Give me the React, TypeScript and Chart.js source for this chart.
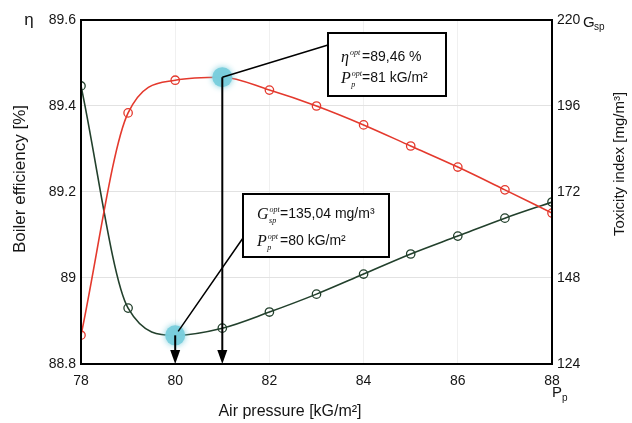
import React, { useEffect, useRef } from 'react';
import { Chart, registerables } from 'chart.js';
Chart.register(...registerables);

const pressure = [78, 79, 80, 81, 82, 83, 84, 85, 86, 87, 88];
const efficiency = [88.867, 89.384, 89.46, 89.467, 89.437, 89.4, 89.356, 89.307, 89.258, 89.205, 89.151];
const toxicity = [201.6, 139.6, 132.0, 134.0, 138.5, 143.5, 149.1, 154.7, 159.7, 164.7, 169.2];

const pressureTicks = [78, 80, 82, 84, 86, 88];
const pressureTickLabels = ['78', '80', '82', '84', '86', '88'];
const etaTicks = [88.8, 89, 89.2, 89.4, 89.6];
const etaTickLabels = ['88.8', '89', '89.2', '89.4', '89.6'];
const toxTicks = [124, 148, 172, 196, 220];
const toxTickLabels = ['124', '148', '172', '196', '220'];

const optEtaPressure = 81;
const optToxPressure = 80;
const optEtaText = ['=89,46 %', '=81 kG/m²'];
const optToxText = ['=135,04 mg/m³', '=80 kG/m²'];

const RED = '#e4392d';
const GREEN = '#22402c';
const CYAN = 'rgba(120,205,220,0.95)';
const TEXT = '#151515';
const SANS = '"Liberation Sans", Arial, sans-serif';
const SERIF = '"Liberation Serif", "Times New Roman", serif';

function symbol(ctx: CanvasRenderingContext2D, x: number, y: number, main: string, sup: string, sub: string) {
  ctx.font = `italic 16px ${SERIF}`;
  ctx.textAlign = 'left';
  ctx.textBaseline = 'alphabetic';
  ctx.fillText(main, x, y);
  const w = ctx.measureText(main).width;
  ctx.font = `italic 8px ${SERIF}`;
  ctx.fillText(sup, x + w + 1, y - 7);
  if (sub) ctx.fillText(sub, x + w + 0.5, y + 4);
}

const overlay = {
  id: 'overlay',
  beforeDraw(chart: any) {
    const { ctx, width, height } = chart;
    ctx.save();
    ctx.fillStyle = '#fff';
    ctx.fillRect(0, 0, width, height);
    ctx.restore();
  },
  beforeDatasetDraw(chart: any, args: any) {
    const ds = chart.data.datasets[args.index];
    if (ds.isOpt) {
      chart.ctx.save();
      chart.ctx.shadowColor = 'rgba(120,205,220,1)';
      chart.ctx.shadowBlur = 6;
    }
  },
  afterDatasetDraw(chart: any, args: any) {
    const ds = chart.data.datasets[args.index];
    if (ds.isOpt) chart.ctx.restore();
  },
  afterDatasetsDraw(chart: any) {
    const { ctx, chartArea: ca, scales } = chart;
    const xs = scales.x, ys = scales.y, y2 = scales.y2;
    ctx.save();
    ctx.strokeStyle = '#000';
    ctx.lineWidth = 2;
    ctx.strokeRect(ca.left, ca.top, ca.right - ca.left, ca.bottom - ca.top);

    const p1x = xs.getPixelForValue(optEtaPressure);
    const p1y = ys.getPixelForValue(efficiency[pressure.indexOf(optEtaPressure)]);
    const p2x = xs.getPixelForValue(optToxPressure);
    const p2y = y2.getPixelForValue(toxicity[pressure.indexOf(optToxPressure)]);

    const arrow = (x: number, yTop: number) => {
      ctx.strokeStyle = '#000';
      ctx.fillStyle = '#000';
      ctx.lineWidth = 2;
      ctx.beginPath();
      ctx.moveTo(x, yTop);
      ctx.lineTo(x, ca.bottom - 12);
      ctx.stroke();
      ctx.beginPath();
      ctx.moveTo(x - 5, ca.bottom - 14);
      ctx.lineTo(x + 5, ca.bottom - 14);
      ctx.lineTo(x, ca.bottom);
      ctx.closePath();
      ctx.fill();
    };
    arrow(p1x, p1y);
    arrow(p2x, p2y);

    const b1 = { x: 328, y: 33, w: 118, h: 63 };
    const b2 = { x: 243, y: 194, w: 146, h: 63 };
    ctx.lineWidth = 1.5;
    ctx.beginPath();
    ctx.moveTo(p1x, p1y);
    ctx.lineTo(b1.x, b1.y + 12);
    ctx.moveTo(p2x + 3, p2y - 4);
    ctx.lineTo(b2.x, b2.y + 44);
    ctx.stroke();

    ctx.lineWidth = 2;
    for (const b of [b1, b2]) {
      ctx.fillStyle = '#fff';
      ctx.fillRect(b.x, b.y, b.w, b.h);
      ctx.strokeRect(b.x, b.y, b.w, b.h);
    }
    ctx.fillStyle = '#111';
    symbol(ctx, b1.x + 13, b1.y + 29, 'η', 'opt', '');
    symbol(ctx, b1.x + 13, b1.y + 50, 'P', 'opt', 'p');
    ctx.font = `14px ${SANS}`;
    ctx.fillText(optEtaText[0], b1.x + 34, b1.y + 28);
    ctx.fillText(optEtaText[1], b1.x + 34, b1.y + 49);

    symbol(ctx, b2.x + 14, b2.y + 25, 'G', 'opt', 'sp');
    symbol(ctx, b2.x + 14, b2.y + 52, 'P', 'opt', 'p');
    ctx.font = `14px ${SANS}`;
    ctx.fillText(optToxText[0], b2.x + 37, b2.y + 24);
    ctx.fillText(optToxText[1], b2.x + 37, b2.y + 51);

    ctx.fillStyle = TEXT;
    ctx.font = `17px ${SANS}`;
    ctx.textBaseline = 'middle';
    ctx.textAlign = 'center';
    ctx.fillText('η', 29, ca.top);
    ctx.textAlign = 'left';
    ctx.font = `15px ${SANS}`;
    ctx.fillText('G', 583, ca.top + 3);
    ctx.font = `10px ${SANS}`;
    ctx.fillText('sp', 594, ca.top + 7);
    ctx.font = `15px ${SANS}`;
    ctx.fillText('P', 552, ca.bottom + 29);
    ctx.font = `10px ${SANS}`;
    ctx.fillText('p', 562, ca.bottom + 34);

    ctx.textAlign = 'center';
    ctx.font = `16px ${SANS}`;
    ctx.fillText('Air pressure [kG/m²]', 290, 412);
    ctx.save();
    ctx.font = `17px ${SANS}`;
    ctx.translate(20, 179);
    ctx.rotate(-Math.PI / 2);
    ctx.fillText('Boiler efficiency [%]', 0, 0);
    ctx.restore();
    ctx.save();
    ctx.font = `15px ${SANS}`;
    ctx.translate(620, 164);
    ctx.rotate(-Math.PI / 2);
    ctx.fillText('Toxicity index [mg/m³]', 0, 0);
    ctx.restore();
    ctx.restore();
  },
};

export default function App() {
  const ref = useRef<HTMLCanvasElement>(null);
  useEffect(() => {
    if (!ref.current) return;
    const pts = (ys: number[]) => pressure.map((x, i) => ({ x, y: ys[i] }));
    const chart = new Chart(ref.current, {
      type: 'line',
      data: {
        datasets: [
          {
            isOpt: true,
            data: [{ x: optEtaPressure, y: efficiency[pressure.indexOf(optEtaPressure)] }],
            yAxisID: 'y', showLine: false, pointRadius: 10, pointBorderWidth: 0,
            pointBackgroundColor: CYAN, backgroundColor: CYAN, order: 0, clip: false,
          } as any,
          {
            isOpt: true,
            data: [{ x: optToxPressure, y: toxicity[pressure.indexOf(optToxPressure)] }],
            yAxisID: 'y2', showLine: false, pointRadius: 10, pointBorderWidth: 0,
            pointBackgroundColor: CYAN, backgroundColor: CYAN, order: 0, clip: false,
          } as any,
          {
            data: pts(efficiency), yAxisID: 'y', borderColor: RED, borderWidth: 1.6,
            pointRadius: 4.2, pointBorderColor: RED, pointBackgroundColor: 'rgba(255,255,255,0)',
            pointBorderWidth: 1.3, cubicInterpolationMode: 'monotone', order: 1,
          },
          {
            data: pts(toxicity), yAxisID: 'y2', borderColor: GREEN, borderWidth: 1.6,
            pointRadius: 4.2, pointBorderColor: GREEN, pointBackgroundColor: 'rgba(255,255,255,0)',
            pointBorderWidth: 1.3, cubicInterpolationMode: 'monotone', order: 1,
          },
        ],
      },
      options: {
        responsive: false,
        animation: false,
        devicePixelRatio: 1,
        layout: { padding: { top: 20, left: 0, right: 0, bottom: 0 } },
        plugins: { legend: { display: false }, tooltip: { enabled: false } },
        scales: {
          x: {
            type: 'linear', min: 78, max: 88,
            afterBuildTicks: (s: any) => { s.ticks = pressureTicks.map((v) => ({ value: v })); },
            afterFit: (s: any) => { s.height = 59; },
            grid: { color: '#f0f0f0', drawTicks: false },
            border: { color: '#000', width: 2 },
            ticks: { padding: 9, color: TEXT, font: { size: 14, family: SANS },
              callback: (_v: any, i: number) => pressureTickLabels[i] },
          },
          y: {
            position: 'left', min: 88.8, max: 89.6,
            afterBuildTicks: (s: any) => { s.ticks = etaTicks.map((v) => ({ value: v })); },
            afterFit: (s: any) => { s.width = 81; },
            grid: { color: '#e2e2e2', drawTicks: false },
            border: { color: '#000', width: 2 },
            ticks: { padding: 5, color: TEXT, font: { size: 14, family: SANS },
              callback: (_v: any, i: number) => etaTickLabels[i] },
          },
          y2: {
            position: 'right', min: 124, max: 220,
            afterBuildTicks: (s: any) => { s.ticks = toxTicks.map((v) => ({ value: v })); },
            afterFit: (s: any) => { s.width = 80; },
            grid: { display: false, drawTicks: false },
            border: { color: '#000', width: 2 },
            ticks: { padding: 5, color: TEXT, font: { size: 14, family: SANS },
              callback: (_v: any, i: number) => toxTickLabels[i] },
          },
        },
      } as any,
      plugins: [overlay],
    });
    return () => chart.destroy();
  }, []);
  return (
    <div style={{ position: 'absolute', left: 0, top: 0, width: 632, height: 423 }}>
      <canvas ref={ref} width={632} height={423} />
    </div>
  );
}
